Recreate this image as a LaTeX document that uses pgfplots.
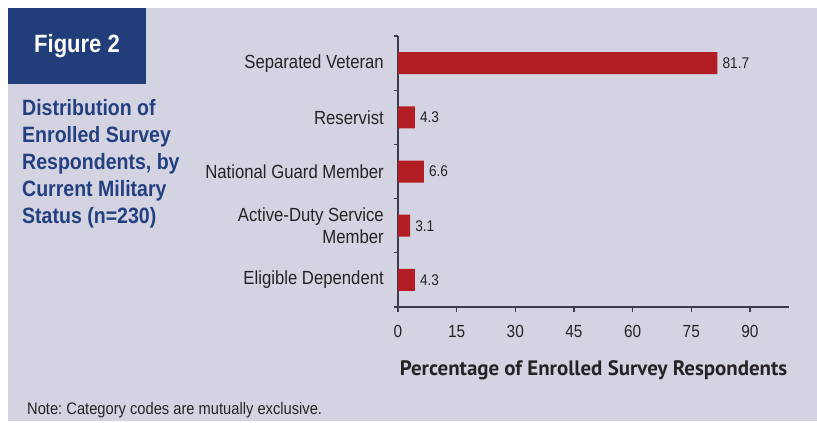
\documentclass[border=0pt]{standalone}
\usepackage{pgfplots}
\pgfplotsset{compat=1.18}
\usepackage{fontspec}
\setmainfont{Liberation Sans}[FakeStretch=0.88]
\newfontfamily\ptsans{PT Sans}
\frenchspacing

\definecolor{panel}{RGB}{212,211,226}
\definecolor{figblue}{RGB}{33,61,122}
\definecolor{titleblue}{RGB}{36,64,128}
\definecolor{barred}{RGB}{178,30,36}
\definecolor{txt}{RGB}{38,35,38}
\definecolor{axiscol}{RGB}{60,60,78}

\begin{document}
\begin{tikzpicture}[x=1pt,y=1pt]
\useasboundingbox (0,0) rectangle (817,-423);
\fill[white] (0,0) rectangle (817,-423);
\fill[panel] (8,-8) rectangle (817,-421);
\fill[figblue] (8,-8) rectangle (146,-84);
\node[anchor=base, text=white, inner sep=0pt,
      font=\fontsize{25}{28}\selectfont\bfseries] at (77,-52) {Figure 2};
\node[anchor=north west, align=left, text=titleblue, inner sep=0pt,
      font=\fontsize{22.2}{26.9}\selectfont\bfseries] at (22,-99.5)
  {Distribution of\\Enrolled Survey\\Respondents, by\\Current Military\\Status (n=230)};
\node[anchor=base west, text=txt, inner sep=0pt,
      font=\fontsize{16.7}{19}\selectfont] at (27,-414)
  {Note: Category codes are mutually exclusive.};

\begin{axis}[
    at={(398pt,-307pt)}, anchor=south west,
    scale only axis, width=391pt, height=271pt,
    xmin=0, xmax=100, ymin=-0.5, ymax=4.5,
    axis x line=bottom, axis y line=left,
    axis line style={-, draw=axiscol, line width=1.3pt},
    xtick={0,15,...,90},
    ytick={0,...,4},
    yticklabels={Eligible Dependent, {Active-Duty Service\\Member}, National Guard Member, Reservist, Separated Veteran},
    minor ytick={-0.5,0.5,...,4.5},
    tick align=outside, major tick length=5pt, minor tick length=4pt,
    tick style={draw=axiscol, line width=1.2pt},
    every major y tick/.append style={draw=none},
    x tick label style={font=\fontsize{17.5}{20}\selectfont, text=txt, inner sep=0pt, yshift=-13pt},
    y tick label style={font=\fontsize{19}{22}\selectfont, text=txt, align=right, inner sep=0pt, xshift=-9pt},
    /pgf/number format/assume math mode=true,
    xlabel={Percentage of Enrolled Survey Respondents},
    xlabel style={at={(axis description cs:0.5,-0.2345)}, anchor=center,
                  font=\ptsans\bfseries\fontsize{20.9}{23}\selectfont, text=txt},
    xbar, bar width=22pt,
    point meta=x,
    nodes near coords={\pgfmathprintnumber[fixed,fixed zerofill,precision=1]{\pgfplotspointmeta}},
    every node near coord/.append style={font=\fontsize{15.5}{18}\selectfont, text=txt,
                                         anchor=west, inner sep=0pt, xshift=5pt},
    clip=false,
]
\addplot[fill=barred, draw=none] coordinates {
    (4.3,0) (3.1,1) (6.6,2) (4.3,3) (81.7,4)
};
\end{axis}
\end{tikzpicture}
\end{document}
